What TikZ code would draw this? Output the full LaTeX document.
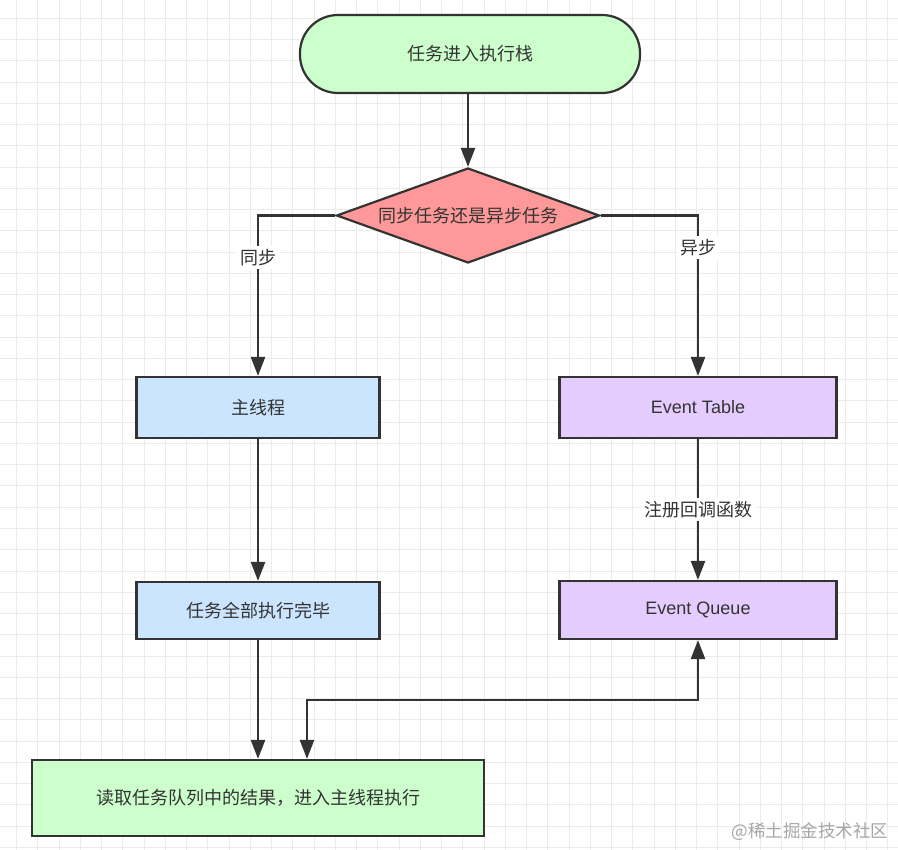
\documentclass[tikz,border=0pt]{standalone}
\usepackage{fontspec}
\setmainfont{Noto Sans CJK SC}
\newfontfamily\latinsans{Liberation Sans}
\usetikzlibrary{arrows.meta,shapes.geometric}
\definecolor{gridc}{HTML}{EBEBEB}
\definecolor{edgec}{HTML}{333333}
\definecolor{greenf}{HTML}{CCFFCC}
\definecolor{redf}{HTML}{FF9999}
\definecolor{bluef}{HTML}{CCE5FF}
\definecolor{purplef}{HTML}{E5CCFF}
\begin{document}
\begin{tikzpicture}[x=1pt,y=-1pt,
  box/.style={draw=edgec,line width=2.2pt,rectangle,inner sep=0pt,text=edgec,font=\fontsize{18}{20}\selectfont},
  arr/.style={draw=edgec,line width=2.5pt,-{Triangle[length=19pt,width=14pt]}},
  arrtwo/.style={draw=edgec,line width=2.5pt,{Triangle[length=19pt,width=14pt]}-{Triangle[length=19pt,width=14pt]}},
  lbl/.style={fill=white,text=edgec,inner sep=3pt,font=\fontsize{18}{20}\selectfont}]
\useasboundingbox (0,0) rectangle (898,850);
\fill[white] (0,0) rectangle (898,850);
\foreach \i in {0,...,41} {\draw[gridc,line width=1pt] (16.5+21.25*\i,0) -- (16.5+21.25*\i,850);}
\foreach \i in {0,...,39} {\draw[gridc,line width=1pt] (0,18.5+21.25*\i) -- (898,18.5+21.25*\i);}

\node[box,fill=greenf,rounded corners=38pt,minimum width=340pt,minimum height=78pt] (start) at (470,54) {任务进入执行栈};
\node[box,diamond,fill=redf,minimum width=263pt,minimum height=95pt,aspect=2.77] (dia) at (468,215.5) {同步任务还是异步任务};
\node[box,fill=bluef,minimum width=243pt,minimum height=61pt] (main) at (258,407.5) {主线程};
\node[box,fill=purplef,minimum width=277pt,minimum height=61pt] (et) at (698,407.5) {\latinsans Event Table};
\node[box,fill=bluef,minimum width=243pt,minimum height=57pt] (done) at (258,610.5) {任务全部执行完毕};
\node[box,fill=purplef,minimum width=277pt,minimum height=58pt] (eq) at (698,610) {\latinsans Event Queue};
\node[box,fill=greenf,minimum width=452pt,minimum height=76pt] (res) at (258,798) {读取任务队列中的结果，进入主线程执行};
\node[text=gray!70,font=\fontsize{17.5}{19}\selectfont,anchor=east] (wm) at (892,832) {@稀土掘金技术社区};

\draw[arr] (start.south -| dia.north) -- (dia.north);
\draw[arr] (dia.west) -| node[lbl,pos=0.63] {同步} (main.north);
\draw[arr] (dia.east) -| node[lbl,pos=0.6] {异步} (et.north);
\draw[arr] (main.south) -- (done.north);
\draw[arr] (et.south) -- node[lbl] {注册回调函数} (eq.north);
\draw[arr] (done.south) -- (done.south |- res.north);
\coordinate (j) at (307,700);
\draw[arrtwo] (j |- res.north) -- (j) -| (eq.south);
\end{tikzpicture}
\end{document}
